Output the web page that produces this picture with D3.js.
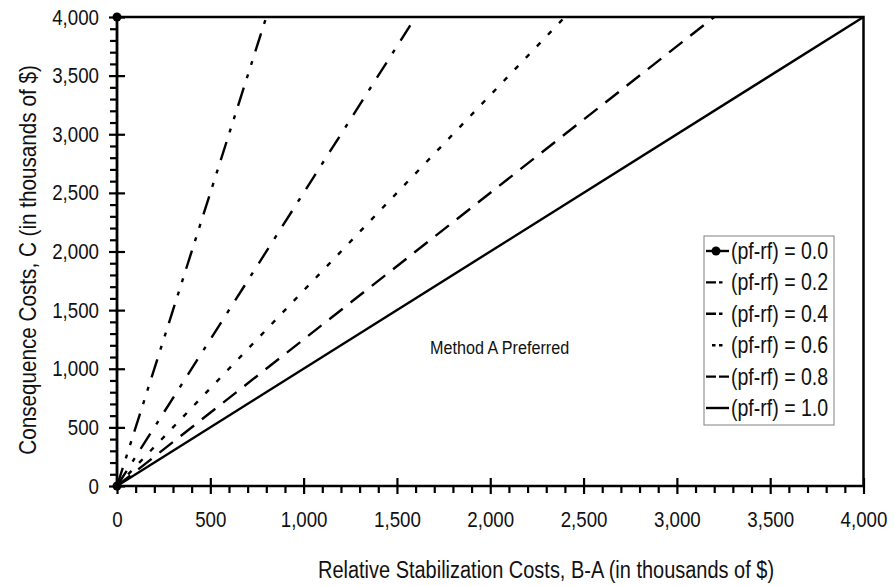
<!DOCTYPE html>
<html>
<head>
<meta charset="utf-8">
<script src="https://cdn.jsdelivr.net/npm/d3@7"></script>
<style>
  body { margin: 0; background: #fff; }
  svg { display: block; font-family: "Liberation Sans", Arial, sans-serif; }
</style>
</head>
<body>
<svg id="chart" width="894" height="586"></svg>
<script>
// Probability difference values, one line per value: C = (B-A) / (pf-rf)
const pfrfValues = [0.0, 0.2, 0.4, 0.6, 0.8, 1.0];
const seriesLabels = ["(pf-rf) = 0.0", "(pf-rf) = 0.2", "(pf-rf) = 0.4", "(pf-rf) = 0.6", "(pf-rf) = 0.8", "(pf-rf) = 1.0"];
// Relative stabilization cost at each line's start and end
const startCost = [0, 0, 0, 0, 0, 0];
const endCost = [0, 800, 1600, 2400, 3200, 4000];
// Consequence cost at start and end of each line
const startConsequence = [0, 0, 0, 0, 0, 0];
const endConsequence = [4000, 4000, 4000, 4000, 4000, 4000];
const xTicks = [0, 500, 1000, 1500, 2000, 2500, 3000, 3500, 4000];
const yTicks = [0, 500, 1000, 1500, 2000, 2500, 3000, 3500, 4000];

// Stroke patterns for the plot lines and the short legend samples
const dashes = [null, "19,10,4,10,4,10", "18,11,4,11", "5,11", "17,10", null];
const legendDashes = [null, "10,3,3.5,20", "10,3,3.5,20", "0,6,3.5,3.5,3.5,20", "10,3", null];
const SX = 0.85; // condensed lettering

const svg = d3.select("#chart");
const W = 894, H = 586;
const m = { left: 117, right: W - 863.5, top: 17, bottom: H - 486 };

const x = d3.scaleLinear().domain([0, 4000]).range([m.left, W - m.right]);
const y = d3.scaleLinear().domain([0, 4000]).range([H - m.bottom, m.top]);

const fmt = d3.format(",");
const minor = d3.range(0, 4001, 100).filter(v => v % 500 !== 0);

// Minor ticks (outside only)
svg.append("g").attr("transform", `translate(0,${y(0)})`)
  .call(d3.axisBottom(x).tickValues(minor).tickSize(7).tickFormat(""))
  .call(g => g.select(".domain").remove())
  .selectAll("line").attr("stroke", "#000").attr("stroke-width", 2.2);
svg.append("g").attr("transform", `translate(${x(0)},0)`)
  .call(d3.axisLeft(y).tickValues(minor).tickSize(7).tickFormat(""))
  .call(g => g.select(".domain").remove())
  .selectAll("line").attr("stroke", "#000").attr("stroke-width", 2.2);

// Major ticks crossing the axis
const xAxis = svg.append("g").attr("transform", `translate(0,${y(0)})`)
  .call(d3.axisBottom(x).tickValues(xTicks).tickSizeInner(8).tickSizeOuter(0).tickPadding(17).tickFormat(fmt));
xAxis.select(".domain").remove();
xAxis.selectAll("line").attr("y1", -8).attr("stroke", "#000").attr("stroke-width", 2.2);
xAxis.selectAll("text").attr("font-size", 22).attr("fill", "#111")
  .attr("font-family", "'Liberation Sans', Arial, sans-serif")
  .attr("transform", `scale(${SX},1)`);

const yAxis = svg.append("g").attr("transform", `translate(${x(0)},0)`)
  .call(d3.axisLeft(y).tickValues(yTicks).tickSizeInner(8).tickSizeOuter(0).tickPadding(10).tickFormat(fmt));
yAxis.select(".domain").remove();
yAxis.selectAll("line").attr("x1", 8).attr("stroke", "#000").attr("stroke-width", 2.2);
yAxis.selectAll("text").attr("font-size", 22).attr("fill", "#111")
  .attr("font-family", "'Liberation Sans', Arial, sans-serif")
  .attr("x", -18 / SX)
  .attr("transform", `scale(${SX},1)`);

// Plot frame
svg.append("rect")
  .attr("x", x(0)).attr("y", y(4000))
  .attr("width", x(4000) - x(0)).attr("height", y(0) - y(4000))
  .attr("fill", "none").attr("stroke", "#000").attr("stroke-width", 2.5);

// Series lines
const lineGen = d3.line().x(d => x(d[0])).y(d => y(d[1]));
pfrfValues.forEach((p, i) => {
  const pts = [[startCost[i], startConsequence[i]], [endCost[i], endConsequence[i]]];
  const path = svg.append("path").datum(pts)
    .attr("d", lineGen).attr("fill", "none").attr("stroke", "#000")
    .attr("stroke-width", 2.4);
  if (dashes[i]) path.attr("stroke-dasharray", dashes[i]);
  if (i === 0) {
    svg.selectAll(null).data(pts).enter().append("circle")
      .attr("cx", d => x(d[0])).attr("cy", d => y(d[1])).attr("r", 4.5).attr("fill", "#000");
  }
});

// Horizontal text helper with condensed lettering
function hText(sel, px, py, size, anchor, str) {
  return sel.append("text")
    .attr("transform", `translate(${px},${py}) scale(${SX},1)`)
    .attr("text-anchor", anchor).attr("font-size", size).attr("fill", "#111")
    .attr("dy", "0.35em").text(str);
}

// Annotation
hText(svg, x(2050), y(1185), 19, "middle", "Method A Preferred");

// Legend
const lg = svg.append("g").attr("transform", "translate(704,236)");
lg.append("rect").attr("width", 130).attr("height", 189)
  .attr("fill", "#fff").attr("stroke", "#808080").attr("stroke-width", 1);
seriesLabels.forEach((lab, i) => {
  const yy = 15 + i * 31.4;
  const l = lg.append("line").attr("x1", 2).attr("x2", 25).attr("y1", yy).attr("y2", yy)
    .attr("stroke", "#000").attr("stroke-width", 2.4);
  if (legendDashes[i]) l.attr("stroke-dasharray", legendDashes[i]);
  if (i === 0) lg.append("circle").attr("cx", 12).attr("cy", yy).attr("r", 4.5).attr("fill", "#000");
  hText(lg, 27, yy, 23, "start", lab);
});

// Axis titles
hText(svg, 546, 570, 23.5, "middle", "Relative Stabilization Costs, B-A (in thousands of $)");
svg.append("text").attr("transform", "translate(28,260) rotate(-90) scale(0.88,1)")
  .attr("text-anchor", "middle").attr("font-size", 23.5).attr("fill", "#111")
  .attr("dy", "0.35em")
  .text("Consequence Costs, C (in thousands of $)");
</script>
</body>
</html>
